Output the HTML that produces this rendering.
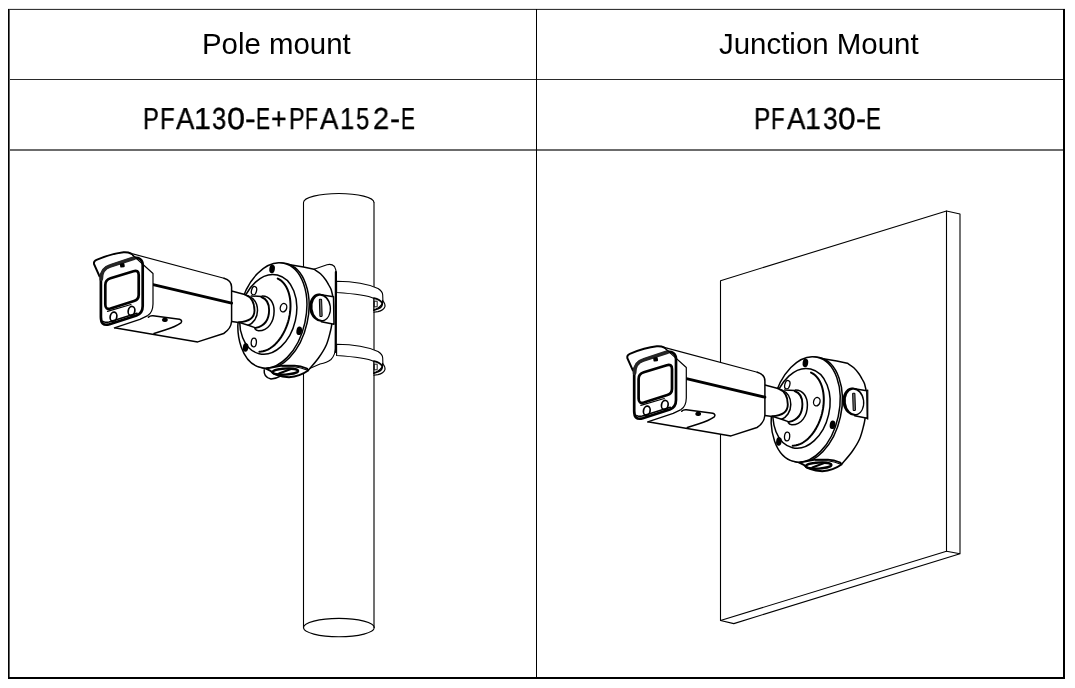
<!DOCTYPE html>
<html><head><meta charset="utf-8"><style>
html,body{margin:0;padding:0;background:#fff;width:1075px;height:688px;overflow:hidden}
body{position:relative;font-family:"Liberation Sans",sans-serif;color:#000}
.ln{position:absolute;background:#000}
.t{position:absolute;white-space:nowrap;line-height:1;will-change:transform}
.g{position:absolute;white-space:nowrap;line-height:1;text-rendering:geometricPrecision;-webkit-text-stroke:0.35px #000;font-size:30.4px;transform-origin:0 0;will-change:transform}
svg{position:absolute;left:0;top:0}
</style></head><body>
<div class="ln" style="left:8px;top:8px;width:1057px;height:1px;background:#e6e6e6"></div>
<div class="ln" style="left:8px;top:9px;width:1057px;height:1px;background:#343434"></div>
<div class="ln" style="left:8px;top:9px;width:1px;height:670px"></div>
<div class="ln" style="left:9px;top:10px;width:1px;height:667px;background:#606060"></div>
<div class="ln" style="left:1063px;top:9px;width:2px;height:670px"></div>
<div class="ln" style="left:8px;top:677px;width:1057px;height:2px"></div>
<div class="ln" style="left:536px;top:9px;width:1px;height:669px"></div>
<div class="ln" style="left:10px;top:79px;width:1053px;height:1px;background:#2a2a2a"></div>
<div class="ln" style="left:10px;top:149px;width:1053px;height:2px;background:#6c6c6c"></div>
<div class="ln" style="left:536px;top:79px;width:1px;height:72px"></div>
<div class="t" style="left:202px;top:28.5px;font-size:29.4px">Pole mount</div>
<div class="t" style="left:719px;top:28.5px;font-size:29.45px">Junction Mount</div>
<span class="g" style="left:143.35px;top:103.8px;transform:scaleX(0.779)">P</span><span class="g" style="left:160.03px;top:103.8px;transform:scaleX(0.790)">F</span><span class="g" style="left:175.60px;top:103.8px;transform:scaleX(0.908)">A</span><span class="g" style="left:193.81px;top:103.8px;transform:scaleX(0.996)">1</span><span class="g" style="left:211.66px;top:103.8px;transform:scaleX(0.843)">3</span><span class="g" style="left:226.83px;top:103.8px;transform:scaleX(1.070)">0</span><span class="g" style="left:244.95px;top:103.8px;transform:scaleX(1.053)">-</span><span class="g" style="left:255.81px;top:103.8px;transform:scaleX(0.696)">E</span><span class="g" style="left:270.93px;top:103.8px;transform:scaleX(0.878)">+</span><span class="g" style="left:288.87px;top:103.8px;transform:scaleX(0.767)">P</span><span class="g" style="left:305.31px;top:103.8px;transform:scaleX(0.696)">F</span><span class="g" style="left:319.70px;top:103.8px;transform:scaleX(0.913)">A</span><span class="g" style="left:339.53px;top:103.8px;transform:scaleX(0.838)">1</span><span class="g" style="left:356.02px;top:103.8px;transform:scaleX(0.783)">5</span><span class="g" style="left:372.85px;top:103.8px;transform:scaleX(0.956)">2</span><span class="g" style="left:389.72px;top:103.8px;transform:scaleX(0.978)">-</span><span class="g" style="left:401.02px;top:103.8px;transform:scaleX(0.690)">E</span>
<span class="g" style="left:754.30px;top:103.8px;transform:scaleX(0.803)">P</span><span class="g" style="left:771.34px;top:103.8px;transform:scaleX(0.734)">F</span><span class="g" style="left:786.50px;top:103.8px;transform:scaleX(0.913)">A</span><span class="g" style="left:805.44px;top:103.8px;transform:scaleX(0.932)">1</span><span class="g" style="left:822.73px;top:103.8px;transform:scaleX(0.870)">3</span><span class="g" style="left:838.16px;top:103.8px;transform:scaleX(1.043)">0</span><span class="g" style="left:855.82px;top:103.8px;transform:scaleX(0.978)">-</span><span class="g" style="left:866.34px;top:103.8px;transform:scaleX(0.732)">E</span>
<svg width="1075" height="688" viewBox="0 0 1075 688" fill="none" stroke="#000" stroke-width="1.1" stroke-linejoin="round" stroke-linecap="round">
<defs><g id="cam" stroke-width="1.5"><path d="M279.5,263.1 L303.5,266.9 L314.00,269.20 C315.08,269.97 318.53,272.00 320.50,273.80 C322.47,275.60 324.43,278.13 325.80,280.00 C327.17,281.87 327.78,283.33 328.70,285.00 C329.62,286.67 330.55,287.50 331.30,290.00 C332.05,292.50 332.87,296.33 333.20,300.00 C333.53,303.67 333.50,308.17 333.30,312.00 C333.10,315.83 332.47,319.83 332.00,323.00 C331.53,326.17 331.45,327.33 330.50,331.00 C329.55,334.67 328.30,340.50 326.30,345.00 C324.30,349.50 321.47,353.83 318.50,358.00 C315.53,362.17 310.17,368.00 308.50,370.00 L268,369 L250,330 Z" fill="#fff" stroke="none"/>
<path d="M279.5,263.1 L303.5,266.9 L314.00,269.20 C315.08,269.97 318.53,272.00 320.50,273.80 C322.47,275.60 324.43,278.13 325.80,280.00 C327.17,281.87 327.78,283.33 328.70,285.00 C329.62,286.67 330.55,287.50 331.30,290.00 C332.05,292.50 332.87,296.33 333.20,300.00 C333.53,303.67 333.50,308.17 333.30,312.00 C333.10,315.83 332.47,319.83 332.00,323.00 C331.53,326.17 331.45,327.33 330.50,331.00 C329.55,334.67 328.30,340.50 326.30,345.00 C324.30,349.50 321.47,353.83 318.50,358.00 C315.53,362.17 310.17,368.00 308.50,370.00"/>
<path d="M319.5,294.4 L333.5,296.7 L334,324.3 L321.3,321.7" fill="#fff"/>
<ellipse cx="320.1" cy="307.6" rx="10.9" ry="14.2" transform="rotate(-8 320.1 307.6)" fill="#000" stroke="none"/>
<ellipse cx="321.1" cy="307.8" rx="8.6" ry="12.2" transform="rotate(-8 321.1 307.8)" fill="#fff" stroke="none"/>
<rect x="319.6" y="299.3" width="2.3" height="17.2" rx="0.6" fill="#777" stroke-width="1" transform="rotate(-2 320.7 308)"/>
<ellipse cx="274.6" cy="315.79" rx="33.29" ry="53.46" transform="rotate(12.4 274.6 315.79)" fill="#fff"/>
<ellipse cx="272.4" cy="315.39" rx="33.29" ry="53.46" transform="rotate(12.4 272.4 315.39)" fill="#fff"/>
<ellipse cx="268.26" cy="314.35" rx="27.79" ry="40.36" transform="rotate(13 268.26 314.35)" />
<path d="M277.70,278.54 L279.24,279.36 L280.71,280.35 L282.09,281.52 L283.39,282.86 L284.60,284.36 L285.71,286.02 L286.72,287.82 L287.61,289.75 L288.39,291.81 L289.05,293.99 L289.59,296.27 L290.01,298.65 L290.30,301.10 L290.46,303.62 L290.50,306.20 L290.40,308.82 L290.18,311.47 L289.82,314.14 L289.35,316.81 L288.75,319.46 L288.03,322.09 L287.19,324.68 L286.24,327.21 L285.18,329.68 L284.03,332.08 L282.77,334.38 L281.43,336.58 L280.00,338.67 L278.50,340.63 L276.93,342.46 L275.30,344.14 L273.62,345.67 L271.90,347.05 L270.15,348.25 L268.36,349.29 L266.57,350.14 L264.76,350.81 L262.96,351.30 L261.17,351.59 L259.41,351.70" stroke-width="2"/>
<ellipse cx="254" cy="290.7" rx="2.5" ry="4.3" transform="rotate(15 254 290.7)" stroke-width="1.3"/>
<ellipse cx="283.5" cy="307.7" rx="3.2" ry="4.3" transform="rotate(15 283.5 307.7)" stroke-width="1.3"/>
<ellipse cx="253.8" cy="342.5" rx="2.6" ry="4.4" transform="rotate(5 253.8 342.5)" stroke-width="1.3"/>
<ellipse cx="272.1" cy="268.9" rx="2.8" ry="4.3" transform="rotate(8 272.1 268.9)" fill="#000" stroke="none"/>
<ellipse cx="299.2" cy="330.8" rx="2.8" ry="4.3" transform="rotate(8 299.2 330.8)" fill="#000" stroke="none"/>
<ellipse cx="245.6" cy="347.4" rx="2.8" ry="4.3" transform="rotate(8 245.6 347.4)" fill="#000" stroke="none"/>
<path d="M266,368.6 L270.5,370.8 Q275,376.2 289,377.3 Q300,376.5 308.2,370.6 L307,368.5 Q300,365.5 294.3,365.6 L282,365.6 Z" fill="#fff" stroke-width="1.9"/>
<ellipse cx="285.3" cy="371.6" rx="12.8" ry="3.0" transform="rotate(-3 285.3 371.6)" stroke-width="2.4"/>
<path d="M282,366.8 L294.3,366.8 Q301,367.5 307.5,370.3" stroke-width="1.1"/>
<path d="M279,373.5 L291,369" stroke-width="1.9"/>
<path d="M231.6,290.9 L244.7,294.4 L262.2,295.9 C270,296 274.1,303 274.1,311 C274.1,322 268,331 258.5,330.8 L254.9,328.6 L238.9,322.4 L231.6,321.8 Z" fill="#fff" stroke="none"/>
<path d="M231.6,291.1 L244.7,294.4 M251.3,295.9 L261.4,296.6 M231.6,321.5 L238.9,322.4 L248.3,325.3 L255.6,327.9"/>
<path d="M244.7,294.4 C251.5,297 254.5,303.5 254.5,310.4 C254.5,317 249,321.5 238.9,322.3" stroke-width="1.9"/>
<path d="M248.3,295.9 C254.5,298.5 257.5,304 257.5,310.5 C257.5,318 253,323.5 248.3,325.3"/>
<path d="M261.4,297 C265.5,298.5 269.1,303 269.1,310 C269.1,319 265,326 255.6,327.9" stroke-width="1.9"/>
<path d="M262.2,295.9 C270,296 274.1,303 274.1,311 C274.1,322 268,331 258.5,330.8 Q256,330.5 254.9,328.6"/>
<path d="M128,252.6 L225.8,278.7 Q231.6,280.5 231.6,287.1 L231.6,321.3 Q231,328.9 223.7,333.5 L197.7,341.9 L114.4,327.7 L120,300 Z" fill="#fff" stroke="none"/>
<path d="M128,252.6 L224,278.2" stroke-width="1.15"/>
<path d="M224,278.2 Q231.6,280.5 231.6,287.1 L231.6,321.3 Q231,328.9 223.7,333.5 L197.7,341.9 L114.4,327.7"/>
<path d="M153.1,284.7 L231.6,303.2" stroke-width="2.9"/>
<path d="M148.4,317.2 Q150,315.5 153,315.8 L179.5,319.3 Q182.8,320.6 181,322.8 Q176,326.5 165,330 L154,333.5" fill="#fff"/>
<ellipse cx="164.9" cy="319.8" rx="2.9" ry="2.1" transform="rotate(8 164.9 319.8)" fill="#000" stroke="none"/>
<path d="M99.6,276.5 L94.0,264 Q93.5,261 96.5,259.8 C105,256.3 115,253.2 123.5,252.3 Q128,252 131,253.6 L153,273.5 L153,304 Q152.8,312.5 147.7,315.6 L139.9,319.4 L114.4,327.9 L101,322 Z" fill="#fff" stroke="none"/>
<path d="M99.6,276.5 L94.0,264 Q93.5,261 96.5,259.8 C105,256.3 115,253.2 123.5,252.3 Q128,252 131,253.6" stroke-width="1.9"/>
<path d="M131,253.6 L153,273.5 L153,304 Q152.8,312.5 147.7,315.6 L139.9,319.4 L114.4,327.9" stroke-width="1.2"/>
<path d="M100.9,280 C100.9,272 104,267.8 110,266 L133.5,258.2 C138.5,256.8 142.7,259.5 142.7,265 L142.7,306 C142.7,311.5 140.5,314 136.5,315.5 L109.5,324.3 C103,326 100.9,323 100.9,317 Z" fill="#fff" stroke-width="2.7"/>
<path d="M101.2,279 C101.2,272 104,267.8 110,266 L134,258.1" stroke="#262626" stroke-width="3.9"/>
<path d="M103.5,321.5 Q105,323 109,322 L137,313.2" stroke-width="1.6"/>
<rect x="120" y="263.2" width="4.6" height="4.2" rx="1" fill="#000" stroke="none" transform="rotate(-10 122.3 265.3)"/>
<path d="M131,253.6 L141.5,263.1" stroke-width="1.2"/>
<path d="M105.3,285 Q105.3,279.8 110.5,278.3 L133.5,271.2 Q138.7,269.8 138.7,275 L138.7,295 Q138.7,299.5 134,301 L110.5,308.5 Q105.3,310 105.3,304.5 Z" fill="#fff" stroke-width="2.7"/>
<path d="M107.5,311.3 L131,304.5" stroke-width="1.2"/>
<ellipse cx="113.5" cy="316.7" rx="3.3" ry="4.6" transform="rotate(12 113.5 316.7)" stroke-width="1.7"/>
<ellipse cx="131.5" cy="311" rx="3.3" ry="4.6" transform="rotate(12 131.5 311)" stroke-width="1.7"/></g></defs>
<path d="M374 628 V202.5" stroke="#707070" stroke-width="2" stroke-linecap="butt"/>
<path d="M303.5 628 V202.5 A35.25 9 0 0 1 374 202.5"/>
<ellipse cx="338.9" cy="627.6" rx="35.4" ry="9.2"/>
<g transform="translate(0 0)"><path d="M336.6,281.3 C352,281.5 366,283 378,288.5 Q382.7,291.5 382.7,295 L382.9,300.5 L382,304 Q378,309 374,309.7 L374,298.4 Q366,294.5 336.6,292.5 Z" fill="#fff"/><path d="M373.9,298.2 Q380,299.5 382.3,303.3 Q382.5,307 378,308.8 L373.8,310.3" stroke-width="1.7"/><path d="M382.5,300.3 Q385.5,303.8 385,306.5 Q383.5,310.5 378,311.6 L373.8,312.2"/><rect x="374.6" y="301.2" width="2.6" height="5.6" stroke-width="0.9"/></g>
<g transform="translate(0 63)"><path d="M336.6,281.3 C352,281.5 366,283 378,288.5 Q382.7,291.5 382.7,295 L382.9,300.5 L382,304 Q378,309 374,309.7 L374,298.4 Q366,294.5 336.6,292.5 Z" fill="#fff"/><path d="M373.9,298.2 Q380,299.5 382.3,303.3 Q382.5,307 378,308.8 L373.8,310.3" stroke-width="1.7"/><path d="M382.5,300.3 Q385.5,303.8 385,306.5 Q383.5,310.5 378,311.6 L373.8,312.2"/><rect x="374.6" y="301.2" width="2.6" height="5.6" stroke-width="0.9"/></g>
<path d="M314,269.2 L327,264.8 Q331.5,263.5 334.5,266.5 Q336.2,269.5 336.2,274 L335.8,345.5 Q335.5,355 331,359.5 Q327,362.8 320,364 L308.5,368.9 L300,330 Z" fill="#fff"/>
<path d="M335.9,272 L335.7,352" stroke-width="2.2"/>
<use href="#cam"/>
<path d="M264.2,369.8 Q263.4,377.2 271,379 Q276.5,378.6 281,375.9" stroke-width="1.5"/>
<path d="M720.5 620.5 V280.7 L946.5 211 V551.2 Z"/>
<path d="M946.5 211 L960 214 V553.8 L733.8 623.6 L720.5 620.5 M946.5 551.2 L960 553.8"/>
<use href="#cam" x="533.3" y="94"/>
<path d="M866.4,390.5 L867.8,390 L867.8,419.2 L867,418.5"/>
</svg>
</body></html>
